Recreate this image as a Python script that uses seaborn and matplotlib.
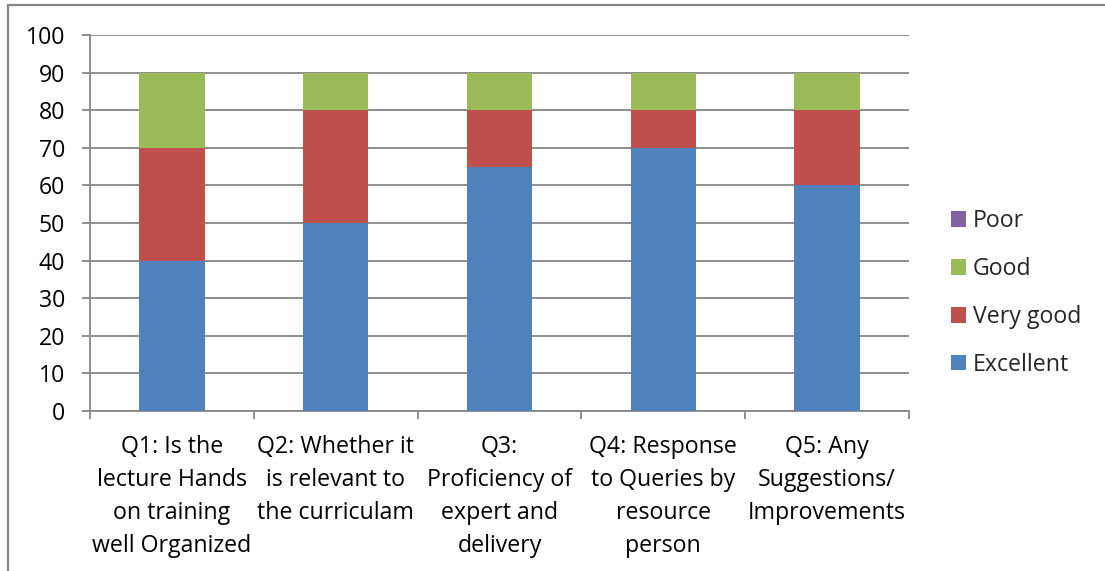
import matplotlib
matplotlib.use("Agg")
import matplotlib.pyplot as plt
from matplotlib.lines import Line2D
from matplotlib.patches import Patch
from matplotlib.ticker import MultipleLocator, FixedLocator
import numpy as np
import pandas as pd
import seaborn as sns

# Survey questions (category axis)
questions = [
    "Q1: Is the\nlecture Hands\non training\nwell Organized",
    "Q2: Whether it\nis relevant to\nthe curriculam",
    "Q3:\nProficiency of\nexpert and\ndelivery",
    "Q4: Response\nto Queries by\nresource\nperson",
    "Q5: Any\nSuggestions/\nImprovements",
]

# Percentage of responses per rating
excellent = [40, 50, 65, 70, 60]
very_good = [30, 30, 15, 10, 20]
good = [20, 10, 10, 10, 10]
poor = [0, 0, 0, 0, 0]

series_names = ["Excellent", "Very good", "Good", "Poor"]
series_values = [excellent, very_good, good, poor]
series_colors = ["#4F81BD", "#C0504D", "#9BBB59", "#8064A2"]

sns.set_theme(style="white")
plt.rcParams["font.family"] = ["Open Sans", "DejaVu Sans"]

FS = 16.7
W, H = 1105, 571
fig = plt.figure(figsize=(W / 100, H / 100), dpi=100)
ax = fig.add_axes([90 / W, 1 - 411 / H, (909 - 90) / W, (411 - 35) / H])

grid_color = "#868686"

# Stacked bars: draw cumulative totals from the top layer down
cum = np.cumsum(np.array(series_values), axis=0)
for i in range(len(series_names) - 1, -1, -1):
    df = pd.DataFrame({"question": questions, "value": cum[i]})
    sns.barplot(data=df, x="question", y="value", color=series_colors[i],
                saturation=1, width=0.4, linewidth=0, ax=ax, zorder=3)

ax.set_xlim(-0.5, len(questions) - 0.5)
ax.set_ylim(0, 100)
ax.yaxis.set_major_locator(MultipleLocator(10))
ax.set_xlabel("")
ax.set_ylabel("")

ax.grid(axis="y", color=grid_color, linewidth=1.3, zorder=0)
ax.set_axisbelow(True)

for side in ["top", "right"]:
    ax.spines[side].set_visible(False)
for side in ["left", "bottom"]:
    ax.spines[side].set_color(grid_color)
    ax.spines[side].set_linewidth(1.3)

ax.tick_params(axis="y", which="major", length=6, width=1.3, color=grid_color,
               pad=12, labelsize=FS, labelcolor="black", left=True)
ax.tick_params(axis="x", which="major", length=0, pad=17.5, labelsize=FS,
               labelcolor="black")
ax.xaxis.set_minor_locator(FixedLocator(np.arange(-0.5, len(questions), 1.0)))
ax.tick_params(axis="x", which="minor", length=6, width=1.3, color=grid_color,
               bottom=True)
for lbl in ax.get_xticklabels():
    lbl.set_linespacing(1.5)
    lbl.set_ha("center")

# Legend with Poor on top
handles = [Patch(facecolor=c, edgecolor="none") for c in series_colors][::-1]
labels = series_names[::-1]
fig.legend(handles, labels, loc="center left",
           bbox_to_anchor=(951 / W, 1 - 293 / H), bbox_transform=fig.transFigure,
           frameon=False, fontsize=FS, handlelength=0.65, handleheight=0.65,
           handletextpad=0.3, labelspacing=1.03, borderpad=0, borderaxespad=0)

# Chart area frame (top and left edges)
fig.add_artist(Line2D([8 / W, 1.0], [1 - 5 / H, 1 - 5 / H],
                      transform=fig.transFigure, color=grid_color, linewidth=1.6))
fig.add_artist(Line2D([8 / W, 8 / W], [0, 1 - 5 / H],
                      transform=fig.transFigure, color=grid_color, linewidth=1.6))

fig.savefig("out.png", dpi=100)
